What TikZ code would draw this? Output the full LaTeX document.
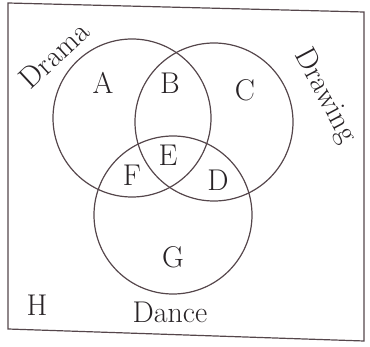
\documentclass[tikz,border=0pt]{standalone}
\begin{document}
\begin{tikzpicture}[x=1pt,y=-1pt,
  ln/.style={draw={rgb,255:red,85;green,70;blue,75}, line width=1.2pt},
  lbl/.style={font=\fontsize{30}{33}\selectfont, text={rgb,255:red,40;green,35;blue,38}, inner sep=0pt}]
\useasboundingbox (0,0) rectangle (370,347);
\coordinate (tl) at (8,3);
\coordinate (tr) at (364,12);
\coordinate (br) at (364,341);
\coordinate (bl) at (8,329);
\draw[ln] (tl) -- (tr) -- (br) -- (bl) -- cycle;
\node[circle, ln, minimum size=158pt, inner sep=0pt] (drama) at (132,118) {};
\node[circle, ln, minimum size=158pt, inner sep=0pt] (drawing) at (214,122) {};
\node[circle, ln, minimum size=158pt, inner sep=0pt] (dance) at (173,215) {};
\node[lbl] (A) at (103,83) {A};
\node[lbl] (B) at (170,83) {B};
\node[lbl] (C) at (245,90) {C};
\node[lbl] (E) at (168,155) {E};
\node[lbl] (F) at (132,175) {F};
\node[lbl] (D) at (218,180) {D};
\node[lbl] (G) at (173,257) {G};
\node[lbl] (H) at (37,305) {H};
\node[lbl] (dancel) at (170,312) {Dance};
\node[lbl, rotate=43] (dramal) at (54,55) {Drama};
\node[lbl, rotate=-62] (drawingl) at (325,96) {Drawing};
\end{tikzpicture}
\end{document}
